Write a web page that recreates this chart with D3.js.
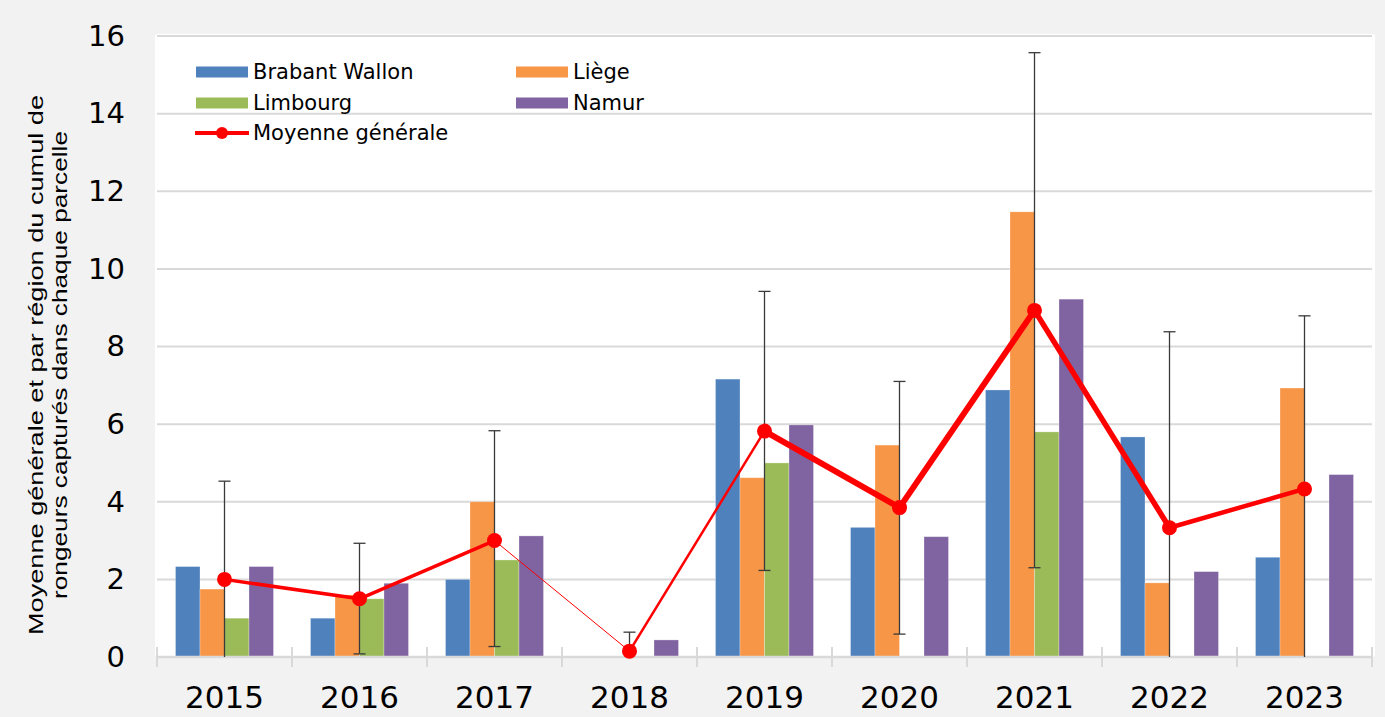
<!DOCTYPE html>
<html>
<head>
<meta charset="utf-8">
<script src="https://cdn.jsdelivr.net/npm/d3@7"></script>
<style>
	html, body { margin: 0; padding: 0; background: #f2f2f2; }
	svg { display: block; }
</style>
</head>
<body>
<div id="chart"></div>
<script>
// values
const years = ['2015', '2016', '2017', '2018', '2019', '2020', '2021', '2022', '2023'];
const regions = ['Brabant Wallon', 'Liège', 'Limbourg', 'Namur'];
const brabantWallon = [2.33, 1.0, 2.0, 0, 7.16, 3.34, 6.88, 5.67, 2.57];
const liege = [1.75, 1.6, 4.0, 0, 4.62, 5.46, 11.47, 1.91, 6.93];
const limbourg = [1.0, 1.5, 2.5, 0, 5.0, 0, 5.8, 0, 0];
const namur = [2.33, 1.9, 3.12, 0.44, 5.98, 3.1, 9.22, 2.2, 4.7];
const moyenne = [2.0, 1.5, 3.0, 0.15, 5.82, 3.85, 8.93, 3.33, 4.33];
const errLow = [0, 0.08, 0.27, 0, 2.23, 0.59, 2.3, 0, 0];
const errHigh = [4.53, 2.93, 5.83, 0.64, 9.42, 7.1, 15.57, 8.38, 8.79];
const yTicks = [0, 2, 4, 6, 8, 10, 12, 14, 16];

const colors = ['#4f81bd', '#f79646', '#9bbb59', '#8064a2'];
// the mean line is drawn thicker or thinner between years
const segWidths = [3.5, 3.5, 1, 2.5, 6, 6, 5.5, 4.5];

const width = 1385;
const height = 717;
const margin = { top: 36, right: 13, bottom: 60, left: 157 };

const seriesValues = [brabantWallon, liege, limbourg, namur];
const rows = years.map((year, i) => ({
	year,
	bars: regions.map((name, k) => ({ name, value: seriesValues[k][i] })),
	mean: moyenne[i],
	low: errLow[i],
	high: errHigh[i],
}));

const svg = d3.select('#chart')
	.append('svg')
		.attr('width', width)
		.attr('height', height);

const x0 = d3.scaleBand()
	.domain(years)
	.range([margin.left, width - margin.right])
	.padding(0);

const x1 = d3.scaleBand()
	.domain(regions)
	.range([18.5, x0.bandwidth() - 18.5])
	.padding(0);

const y = d3.scaleLinear()
	.domain([0, 16])
	.range([height - margin.bottom, margin.top]);

const color = d3.scaleOrdinal().domain(regions).range(colors);

// plot area
svg.append('rect')
	.attr('x', 155)
	.attr('y', 34)
	.attr('width', 1220)
	.attr('height', y(0) - 34)
	.attr('rx', 3)
	.style('fill', '#fff');

// grid
svg.append('g')
	.attr('class', 'grid')
	.selectAll('line')
	.data(yTicks.filter(d => d > 0))
	.enter()
		.append('line')
			.attr('x1', x0.range()[0])
			.attr('x2', x0.range()[1])
			.attr('y1', d => y(d))
			.attr('y2', d => y(d))
			.style('stroke', '#d9d9d9')
			.style('stroke-width', 2);

// y axis, labels only
const yAxis = svg.append('g')
	.attr('transform', `translate(${margin.left},0)`)
	.call(d3.axisLeft(y).tickValues(yTicks).tickSize(0).tickPadding(32));
yAxis.select('.domain').remove();
yAxis.selectAll('text')
	.style('font-family', '"DejaVu Sans", Verdana, sans-serif')
	.style('font-size', '29px')
	.style('fill', '#000');

// bars
const groups = svg.append('g')
	.selectAll('g')
	.data(rows)
	.enter()
		.append('g')
			.attr('transform', d => `translate(${x0(d.year)},0)`);

groups.selectAll('rect')
	.data(d => d.bars)
	.enter()
		.append('rect')
			.attr('x', d => x1(d.name))
			.attr('y', d => y(d.value))
			.attr('width', x1.bandwidth())
			.attr('height', d => y(0) - y(d.value))
			.style('fill', d => color(d.name))
			.style('stroke', 'rgba(255,255,255,0.35)')
			.style('stroke-width', 0.8);

// x axis: line with crossing ticks
const xAxisG = svg.append('g');
xAxisG.append('line')
	.attr('x1', x0.range()[0])
	.attr('x2', x0.range()[1])
	.attr('y1', y(0))
	.attr('y2', y(0))
	.style('stroke', '#d9d9d9')
	.style('stroke-width', 2.5);
xAxisG.selectAll('.tick')
	.data(years.map(d => x0(d)).concat([x0.range()[1]]))
	.enter()
		.append('line')
			.attr('class', 'tick')
			.attr('x1', d => d)
			.attr('x2', d => d)
			.attr('y1', y(0) - 10)
			.attr('y2', y(0) + 10)
			.style('stroke', '#d9d9d9')
			.style('stroke-width', 2);
xAxisG.selectAll('text')
	.data(years)
	.enter()
		.append('text')
			.attr('x', d => x0(d) + x0.bandwidth() / 2)
			.attr('y', 708)
			.attr('text-anchor', 'middle')
			.style('font-family', '"DejaVu Sans", Verdana, sans-serif')
			.style('font-size', '31px')
			.text(d => d);

// error bars
const cx = d => x0(d.year) + x0.bandwidth() / 2;
const err = svg.append('g')
	.selectAll('g')
	.data(rows)
	.enter()
		.append('g')
			.style('stroke', '#3a3a3a')
			.style('stroke-width', 1.3);
err.append('line')
	.attr('x1', cx).attr('x2', cx)
	.attr('y1', d => y(d.low)).attr('y2', d => y(d.high));
err.append('line')
	.attr('x1', d => cx(d) - 6).attr('x2', d => cx(d) + 6)
	.attr('y1', d => y(d.high)).attr('y2', d => y(d.high));
err.filter(d => d.low > 0)
	.append('line')
	.attr('x1', d => cx(d) - 6).attr('x2', d => cx(d) + 6)
	.attr('y1', d => y(d.low)).attr('y2', d => y(d.low));

// mean line, segment by segment
const segs = d3.pairs(rows);
svg.append('g')
	.selectAll('line')
	.data(segs)
	.enter()
		.append('line')
			.attr('x1', d => cx(d[0]))
			.attr('y1', d => y(d[0].mean))
			.attr('x2', d => cx(d[1]))
			.attr('y2', d => y(d[1].mean))
			.style('stroke', '#ff0000')
			.style('stroke-width', (d, i) => segWidths[i])
			.style('stroke-linecap', 'round');
svg.append('g')
	.selectAll('circle')
	.data(rows)
	.enter()
		.append('circle')
			.attr('cx', cx)
			.attr('cy', d => y(d.mean))
			.attr('r', 7.5)
			.style('fill', '#ff0000');

// legend
const legendFont = '"DejaVu Sans", Verdana, sans-serif';
const legendPos = [[196, 72], [516, 72], [196, 103], [516, 103]];
const legend = svg.append('g');
regions.forEach((name, k) => {
	const [lx, ly] = legendPos[k];
	legend.append('rect')
		.attr('x', lx).attr('y', ly - 5.5)
		.attr('width', 52).attr('height', 11)
		.style('fill', color(name));
	legend.append('text')
		.attr('x', lx + 57).attr('y', ly).attr('dy', '0.35em')
		.style('font-family', legendFont)
		.style('font-size', '21px')
		.text(name);
});
legend.append('line')
	.attr('x1', 195).attr('x2', 249)
	.attr('y1', 133).attr('y2', 133)
	.style('stroke', '#ff0000')
	.style('stroke-width', 4);
legend.append('circle')
	.attr('cx', 222).attr('cy', 133).attr('r', 6)
	.style('fill', '#ff0000');
legend.append('text')
	.attr('x', 253).attr('y', 133).attr('dy', '0.35em')
	.style('font-family', legendFont)
	.style('font-size', '21px')
	.text('Moyenne générale');

// y title, two lines
const titleLines = [
	{ text: 'Moyenne générale et par région du cumul de', x: 43, len: 540 },
	{ text: 'rongeurs capturés dans chaque parcelle', x: 67, len: 468 },
];
svg.append('g')
	.selectAll('text')
	.data(titleLines)
	.enter()
		.append('text')
			.attr('transform', d => `translate(${d.x},365) rotate(-90)`)
			.attr('text-anchor', 'middle')
			.attr('textLength', d => d.len)
			.attr('lengthAdjust', 'spacingAndGlyphs')
			.style('font-family', '"Liberation Sans", Arial, sans-serif')
			.style('font-size', '21px')
			.text(d => d.text);
</script>
</body>
</html>
